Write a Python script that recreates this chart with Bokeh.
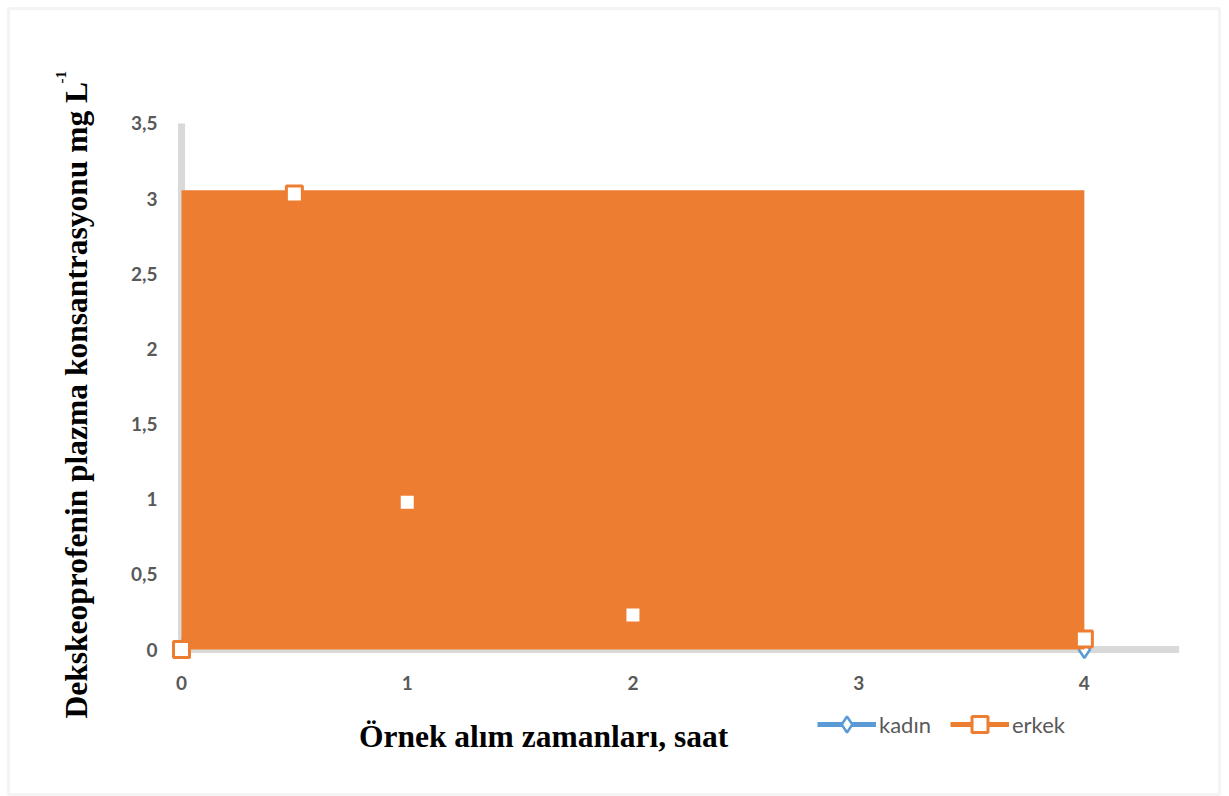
from bokeh.plotting import figure
from bokeh.models import (Range1d, FixedTicker, Label, Legend, LegendItem, BoxAnnotation)
from bokeh.embed import file_html
from bokeh.resources import INLINE

# --- data -------------------------------------------------------------
x_ticks = [0, 1, 2, 3, 4]
y_ticks = [0, 0.5, 1, 1.5, 2, 2.5, 3, 3.5]
y_tick_labels = ["0", "0,5", "1", "1,5", "2", "2,5", "3", "3,5"]
x_axis_end = 4.42

erkek_x = [0, 0.5, 1, 2, 4]
erkek_y = [0.0, 3.03, 0.98, 0.23, 0.07]

kadin_x = [4]
kadin_y = [0.0]

# shaded band under the erkek curve
band_left = [0]
band_right = [4]
band_top = [3.055]

# --- styling ----------------------------------------------------------
ORANGE = "#ED7D31"
BLUE = "#5B9BD5"
GRID_GRAY = "#D9D9D9"
TEXT_GRAY = "#595959"
TICK_FONT = "Lato"
TITLE_FONT = "Liberation Serif"

p = figure(width=1229, height=796, output_backend="svg", toolbar_location=None,
           x_range=Range1d(-0.802, 4.643), y_range=Range1d(-0.978, 4.318),
           min_border=0)
p.outline_line_color = None
p.grid.visible = False
p.background_fill_color = "white"
p.border_fill_color = "white"

for ax in (p.xaxis[0], p.yaxis[0]):
    ax.fixed_location = 0
    ax.axis_line_color = None
    ax.major_tick_line_color = None
    ax.minor_tick_line_color = None
    ax.major_tick_out = 0
    ax.major_tick_in = 0
    ax.minor_tick_out = 0
    ax.minor_tick_in = 0
    ax.major_label_text_font = TICK_FONT
    ax.major_label_text_font_style = "bold"
    ax.major_label_text_font_size = "19px"
    ax.major_label_text_color = TEXT_GRAY

p.xaxis.ticker = FixedTicker(ticks=x_ticks)
p.xaxis.major_label_standoff = 26
p.yaxis.ticker = FixedTicker(ticks=y_ticks)
p.yaxis.major_label_overrides = {t: s for t, s in zip(y_ticks, y_tick_labels)}
p.yaxis.major_label_standoff = 24

# axis lines drawn as thick light-gray strokes
p.segment(x0=[0], y0=[0], x1=[0], y1=[max(y_ticks)], line_color=GRID_GRAY, line_width=7)
p.segment(x0=[0], y0=[0], x1=[x_axis_end], y1=[0], line_color=GRID_GRAY, line_width=7)

# kadin series (mostly hidden behind the band)
kadin_line = p.line(x=kadin_x, y=kadin_y, line_color=BLUE, line_width=5)
kadin_pts = p.scatter(x=kadin_x, y=kadin_y, marker="diamond", size=17,
                      fill_color="white", line_color=BLUE, line_width=2.5)

# orange band
p.quad(left=band_left, right=band_right, bottom=[0], top=band_top,
       fill_color=ORANGE, line_color=None)

# erkek series
erkek_line = p.line(x=erkek_x, y=erkek_y, line_color=ORANGE, line_width=5)
erkek_pts = p.scatter(x=erkek_x, y=erkek_y, marker="square", size=16,
                      fill_color="white", line_color=ORANGE, line_width=3)

legend = Legend(items=[LegendItem(label="kadın", renderers=[kadin_line, kadin_pts]),
                       LegendItem(label="erkek", renderers=[erkek_line, erkek_pts])],
                orientation="horizontal", location=(817, 52),
                glyph_width=59, glyph_height=40, label_standoff=3, spacing=19,
                padding=0, margin=0, border_line_color=None,
                background_fill_alpha=0,
                label_text_font=TICK_FONT, label_text_font_size="22px",
                label_text_color=TEXT_GRAY)
p.add_layout(legend, "center")

# axis titles
p.add_layout(Label(x=1.604, y=-0.579, text="Örnek alım zamanları, saat",
                   text_font=TITLE_FONT, text_font_style="bold", text_font_size="31.5px",
                   text_color="black", text_align="center", text_baseline="alphabetic"))
p.add_layout(Label(x=-0.465, y=-0.459, text="Dekskeoprofenin plazma konsantrasyonu mg L",
                   angle=1.5708, text_font=TITLE_FONT, text_font_style="bold",
                   text_font_size="31.5px", text_color="black",
                   text_align="left", text_baseline="alphabetic"))
p.add_layout(Label(x=-0.536, y=3.766, text="-1",
                   angle=1.5708, text_font=TITLE_FONT, text_font_style="bold",
                   text_font_size="15px", text_color="black",
                   text_align="left", text_baseline="alphabetic"))

# outer frame of the chart area
p.add_layout(BoxAnnotation(left=8, right=1219, top=788, bottom=2,
                           left_units="screen", right_units="screen",
                           top_units="screen", bottom_units="screen",
                           fill_alpha=0, line_color=GRID_GRAY, line_width=3))

open("out.html", "w").write(file_html(p, INLINE))
